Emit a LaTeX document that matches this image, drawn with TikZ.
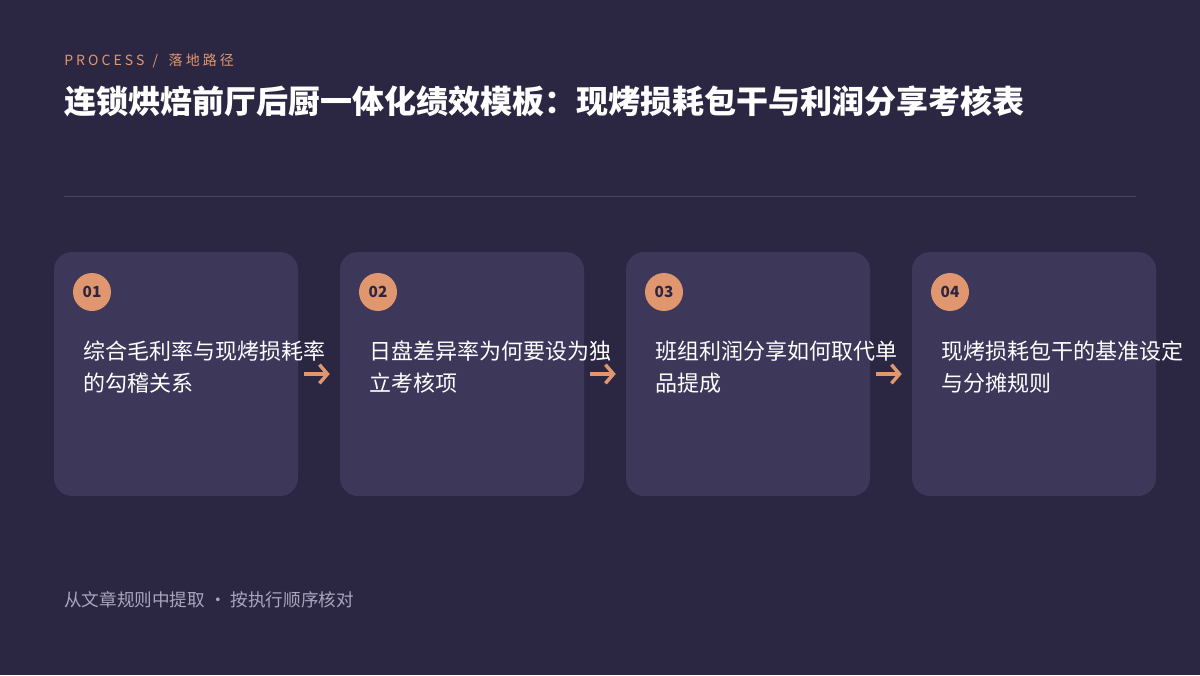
\documentclass[tikz,border=0pt]{standalone}
\usepackage{fontspec}
\setmainfont{Noto Sans CJK SC}
\newfontfamily\cjk{Noto Sans CJK SC}
\usetikzlibrary{positioning,arrows.meta}

\definecolor{sfondo}{HTML}{2B2642}
\definecolor{scheda}{HTML}{3D3759}
\definecolor{arancio}{HTML}{E0976F}
\definecolor{linea}{HTML}{4A4560}
\definecolor{grigio}{HTML}{ABA6BE}

\tikzset{
  scheda/.style={rectangle, rounded corners=13.5pt, fill=scheda, minimum width=183pt, minimum height=183pt, inner sep=0pt},
  numero/.style={circle, fill=arancio, minimum size=28.5pt, inner sep=0pt, text=sfondo, font=\cjk\bfseries\fontsize{11.5pt}{13pt}\selectfont},
  testo/.style={anchor=west, inner sep=0pt, align=left, text=white, font=\cjk\fontsize{16.5pt}{24pt}\selectfont},
  freccia/.style={draw=arancio, line width=2.6pt, -{Straight Barb[length=6pt, width=14pt, line width=2.6pt]}}
}

\begin{document}
\begin{tikzpicture}[x=0.75pt, y=-0.75pt]
      % Sfondo
      \fill[sfondo] (0,0) rectangle (1200,675);
      \useasboundingbox (0,0) rectangle (1200,675);

      % Intestazione
      \node[anchor=west, inner sep=0pt, text=arancio, font=\cjk\fontsize{10.5pt}{12pt}\selectfont\addfontfeatures{LetterSpace=22}] (sopra) at (64,61) {PROCESS\hspace{6pt}/\hspace{8pt}落地路径};
      \node[anchor=west, inner sep=0pt, text=white, font=\cjk\bfseries\fontsize{24pt}{28pt}\selectfont] (titolo) at (64,101) {连锁烘焙前厅后厨一体化绩效模板：现烤损耗包干与利润分享考核表};
      \coordinate (l1) at (64,196);
      \coordinate (l2) at (1136,196);
      \draw[linea, line width=0.75pt] (l1) -- (l2);

      % Disegno delle schede
      \node[scheda] (c1) at (176,374) {};
      \node[scheda] (c2) at (462,374) {};
      \node[scheda] (c3) at (748,374) {};
      \node[scheda] (c4) at (1034,374) {};

      % Numeri
      \node[numero] (n1) at (92,292) {01};
      \node[numero] (n2) at (378,292) {02};
      \node[numero] (n3) at (664,292) {03};
      \node[numero] (n4) at (950,292) {04};

      % Testi
      \node[testo] (t1) at (83,367) {综合毛利率与现烤损耗率\\的勾稽关系};
      \node[testo] (t2) at (369,367) {日盘差异率为何要设为独\\立考核项};
      \node[testo] (t3) at (655,367) {班组利润分享如何取代单\\品提成};
      \node[testo] (t4) at (941,367) {现烤损耗包干的基准设定\\与分摊规则};

      % Disegno delle frecce
      \draw[freccia] ([xshift=4.5pt]c1.east) -- ([xshift=-7.5pt]c2.west);
      \draw[freccia] ([xshift=4.5pt]c2.east) -- ([xshift=-7.5pt]c3.west);
      \draw[freccia] ([xshift=4.5pt]c3.east) -- ([xshift=-7.5pt]c4.west);

      % Nota
      \node[anchor=west, inner sep=0pt, text=grigio, font=\cjk\fontsize{13.2pt}{16pt}\selectfont] (nota) at (64,600) {从文章规则中提取\hspace{3pt}·\hspace{3pt}按执行顺序核对};
    \end{tikzpicture}
\end{document}
